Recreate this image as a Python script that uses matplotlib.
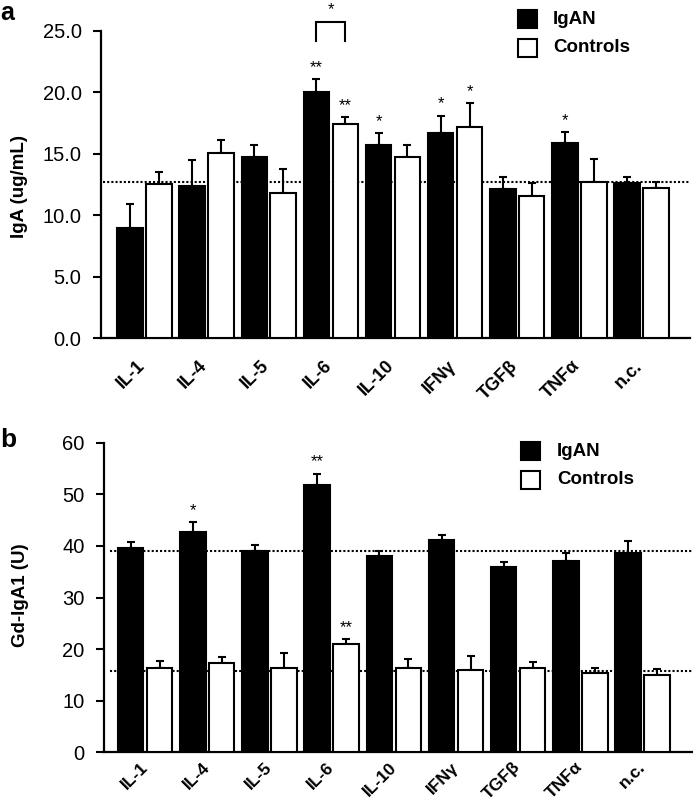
import matplotlib
matplotlib.use("Agg")
import matplotlib.pyplot as plt
import matplotlib.transforms as mtransforms
import numpy as np
from matplotlib.patches import Rectangle

plt.rcParams['font.family'] = ['Liberation Sans', 'DejaVu Sans']

categories = ["IL-1", "IL-4", "IL-5", "IL-6", "IL-10", "IFNγ", "TGFβ", "TNFα", "n.c."]

# Panel a: IgA (ug/mL)
iga_igan = [9.0, 12.4, 14.75, 20.05, 15.75, 16.7, 12.1, 15.9, 12.65]
iga_igan_err = [1.9, 2.1, 1.0, 1.0, 0.9, 1.4, 1.05, 0.85, 0.5]
iga_ctrl = [12.5, 15.1, 11.8, 17.4, 14.7, 17.15, 11.6, 12.7, 12.25]
iga_ctrl_err = [1.0, 1.0, 1.95, 0.55, 1.0, 1.95, 1.0, 1.85, 0.48]
iga_ref = 12.67
iga_sig_igan = ["", "", "", "**", "*", "*", "", "*", ""]
iga_sig_ctrl = ["", "", "", "**", "", "*", "", "", ""]
iga_yticks = [0, 5, 10, 15, 20, 25]

# Panel b: Gd-IgA1 (U)
gd_igan = [39.6, 42.7, 39.0, 51.8, 38.1, 41.1, 35.85, 37.1, 38.7]
gd_igan_err = [1.25, 1.9, 1.2, 2.2, 0.9, 1.0, 1.1, 1.6, 2.25]
gd_ctrl = [16.4, 17.25, 16.4, 20.9, 16.4, 15.95, 16.3, 15.3, 14.9]
gd_ctrl_err = [1.2, 1.25, 2.8, 1.0, 1.6, 2.8, 1.25, 1.1, 1.2]
gd_ref_igan = 39.0
gd_ref_ctrl = 15.7
gd_sig_igan = ["", "*", "", "**", "", "", "", "", ""]
gd_sig_ctrl = ["", "", "", "**", "", "", "", "", ""]
gd_yticks = [0, 10, 20, 30, 40, 50, 60]

W, H = 693, 802
fig = plt.figure(figsize=(W / 100, H / 100), dpi=100)

ax_a = fig.add_axes([101 / W, 1 - 338.3 / H, (690 - 101) / W, (338.3 - 30.7) / H])
ax_b = fig.add_axes([104 / W, 1 - 752.3 / H, (693 - 104) / W, (752.3 - 442.7) / H])

bw = 0.41
off = 0.233
x = np.arange(len(categories))


def draw(ax, igan, igan_err, ctrl, ctrl_err, ymax, sig_i, sig_c, sig_gap, xpad, xshift, xfs):
    ax.bar(x - off, igan, bw, color='black', edgecolor='black', linewidth=1.5, zorder=3)
    ax.bar(x + off, ctrl, bw, color='white', edgecolor='black', linewidth=1.5, zorder=3)
    ax.errorbar(x - off, igan, yerr=[np.zeros(len(x)), igan_err], fmt='none',
                ecolor='black', elinewidth=1.5, capsize=3, capthick=1.5, zorder=2)
    ax.errorbar(x + off, ctrl, yerr=[np.zeros(len(x)), ctrl_err], fmt='none',
                ecolor='black', elinewidth=1.5, capsize=3, capthick=1.5, zorder=2)
    for i in range(len(x)):
        if sig_i[i]:
            ax.text(x[i] - off, igan[i] + igan_err[i] + sig_gap, sig_i[i], ha='center',
                    va='bottom', fontsize=12)
        if sig_c[i]:
            ax.text(x[i] + off, ctrl[i] + ctrl_err[i] + sig_gap, sig_c[i], ha='center',
                    va='bottom', fontsize=12)
    for s in ['top', 'right']:
        ax.spines[s].set_visible(False)
    for s in ['left', 'bottom']:
        ax.spines[s].set_linewidth(1.6)
    ax.set_ylim(0, ymax)
    ax.tick_params(axis='y', length=6, width=1.5, labelsize=14.5, pad=8)
    ax.tick_params(axis='x', length=0, pad=xpad)
    ax.set_xticks(x)
    ax.set_xticklabels(categories, rotation=45, ha='right', va='center',
                       fontsize=xfs, fontweight='bold', rotation_mode='anchor')
    shift = mtransforms.ScaledTranslation(xshift / 100, 0, fig.dpi_scale_trans)
    for lab in ax.get_xticklabels():
        lab.set_transform(lab.get_transform() + shift)


# Panel a
draw(ax_a, iga_igan, iga_igan_err, iga_ctrl, iga_ctrl_err, 25,
     iga_sig_igan, iga_sig_ctrl, 0.35, 18, -2, 13)
ax_a.set_xlim(-0.70, 8.78)
ax_a.set_yticks(iga_yticks)
ax_a.set_yticklabels([f"{v:.1f}" for v in iga_yticks])
ax_a.axhline(iga_ref, xmin=0.004, xmax=1, color='black', linestyle=(0, (1, 1)),
             linewidth=1.5, zorder=1)
# bracket between IL-6 groups
bx0, bx1 = x[3] - off, x[3] + off
by0, by1 = 25.7, 24.2
ax_a.plot([bx0, bx0, bx1, bx1], [by1, by0, by0, by1], color='black', lw=1.5,
          clip_on=False, solid_joinstyle='miter')
ax_a.text(x[3], 26.1, "*", ha='center', va='bottom', fontsize=12)

# Panel b
draw(ax_b, gd_igan, gd_igan_err, gd_ctrl, gd_ctrl_err, 60,
     gd_sig_igan, gd_sig_ctrl, 0.8, 9, 0, 12.5)
ax_b.set_xlim(-0.66, 8.81)
ax_b.set_yticks(gd_yticks)
ax_b.axhline(gd_ref_igan, xmin=0.01, xmax=1, color='black', linestyle=(0, (1, 1)),
             linewidth=1.5, zorder=1)
ax_b.axhline(gd_ref_ctrl, xmin=0.01, xmax=1, color='black', linestyle=(0, (1, 1)),
             linewidth=1.5, zorder=1)

# y labels
fig.text(20 / W, 1 - 186 / H, "IgA (ug/mL)", rotation=90, fontsize=13.5,
         fontweight='bold', ha='center', va='center')
fig.text(21 / W, 1 - 595 / H, "Gd-IgA1 (U)", rotation=90, fontsize=13.5,
         fontweight='bold', ha='center', va='center')


# Legends (drawn manually in figure pixels)
def legend(x0, y_top1, y_top2, tx):
    for yt, fc in [(y_top1, 'black'), (y_top2, 'white')]:
        fig.patches.append(Rectangle((x0 / W, 1 - (yt + 18) / H), 19 / W, 18 / H,
                                     facecolor=fc, edgecolor='black', linewidth=1.5,
                                     transform=fig.transFigure))
    fig.text(tx / W, 1 - (y_top1 + 9) / H, "IgAN", fontsize=13.5, fontweight='bold',
             va='center', ha='left')
    fig.text(tx / W, 1 - (y_top2 + 9) / H, "Controls", fontsize=13.5, fontweight='bold',
             va='center', ha='left')


legend(518, 10, 39, 553)
legend(521, 442, 471, 557)

fig.text(0 / W, 1 - 0.5 / H, "a", fontsize=18, fontweight='bold', ha='left', va='top')
fig.text(0 / W, 1 - 447 / H, "b", fontsize=19, fontweight='bold', ha='left', va='baseline')

fig.savefig("out.png", dpi=100)
